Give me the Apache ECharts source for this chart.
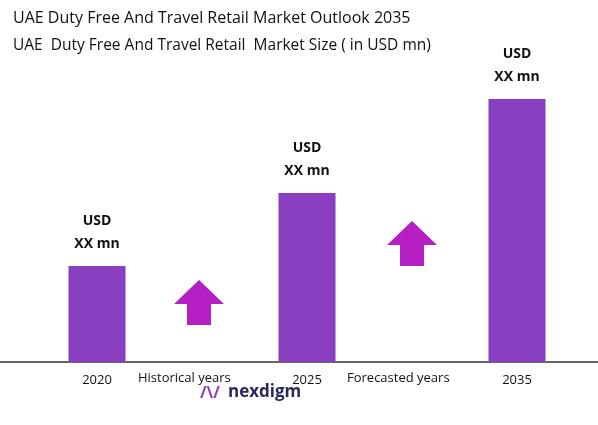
<!DOCTYPE html>
<html>
<head>
<meta charset="utf-8">
<script src="https://cdn.jsdelivr.net/npm/echarts@6/dist/echarts.min.js"></script>
<style>html,body{margin:0;padding:0;background:#fff}#chart{width:598px;height:425px}</style>
</head>
<body>
<div id="chart"></div>
<script>
const years = ["2020", "2025", "2035"];
const sizes = [96, 169, 263];
const barLabels = ["USD\nXX mn", "USD\nXX mn", "USD\nXX mn"];

const chart = echarts.init(document.getElementById("chart"));
const arrow = (x, y) => ({
  type: "polygon",
  shape: { points: [[x + 25, y], [x + 50, y + 24], [x + 37, y + 24], [x + 37, y + 45], [x + 13, y + 45], [x + 13, y + 24], [x, y + 24]] },
  style: { fill: "#B51FC4" }
});
chart.setOption({
  animation: false,
  title: [
    { text: "UAE Duty Free And Travel Retail Market Outlook 2035", left: 8, top: 5,
      textStyle: { fontFamily: "Open Sans", fontSize: 16, fontWeight: "normal", color: "#111" } },
    { text: "UAE  Duty Free And Travel Retail  Market Size ( in USD mn)", left: 8, top: 33,
      textStyle: { fontFamily: "Open Sans", fontSize: 15.5, fontWeight: "normal", color: "#111" } }
  ],
  grid: { left: -8, width: 630, top: 40, bottom: 63, outerBoundsMode: "none", containLabel: false },
  xAxis: {
    type: "category", data: years,
    axisTick: { show: false },
    axisLine: { lineStyle: { color: "#333", width: 1.5 } },
    axisLabel: { fontFamily: "Open Sans", fontSize: 13, color: "#111", margin: 12 }
  },
  yAxis: { type: "value", min: 0, max: 322, show: false, splitLine: { show: false } },
  series: [{
    type: "bar", data: sizes, barWidth: 57,
    itemStyle: { color: "#8A3FC0" },
    label: {
      show: true, position: "top", distance: 10,
      formatter: p => barLabels[p.dataIndex],
      fontFamily: "Open Sans", fontWeight: "bold", fontSize: 14, lineHeight: 23, color: "#111"
    }
  }],
  graphic: [
    arrow(174, 280),
    arrow(387, 221),
    { type: "text", left: 138, top: 372, style: { text: "Historical years", font: "13px Open Sans", fill: "#111" } },
    { type: "text", left: 347, top: 372, style: { text: "Forecasted years", font: "13px Open Sans", fill: "#111" } },
    { type: "text", left: 200, top: 385, style: { text: "/\\/", font: "bold 16px Open Sans", fill: "#8A3FC0" } },
    { type: "text", left: 228, top: 384, style: { text: "nexdigm", font: "bold 17px Open Sans", fill: "#2a2a5a" } }
  ]
});
</script>
</body>
</html>
